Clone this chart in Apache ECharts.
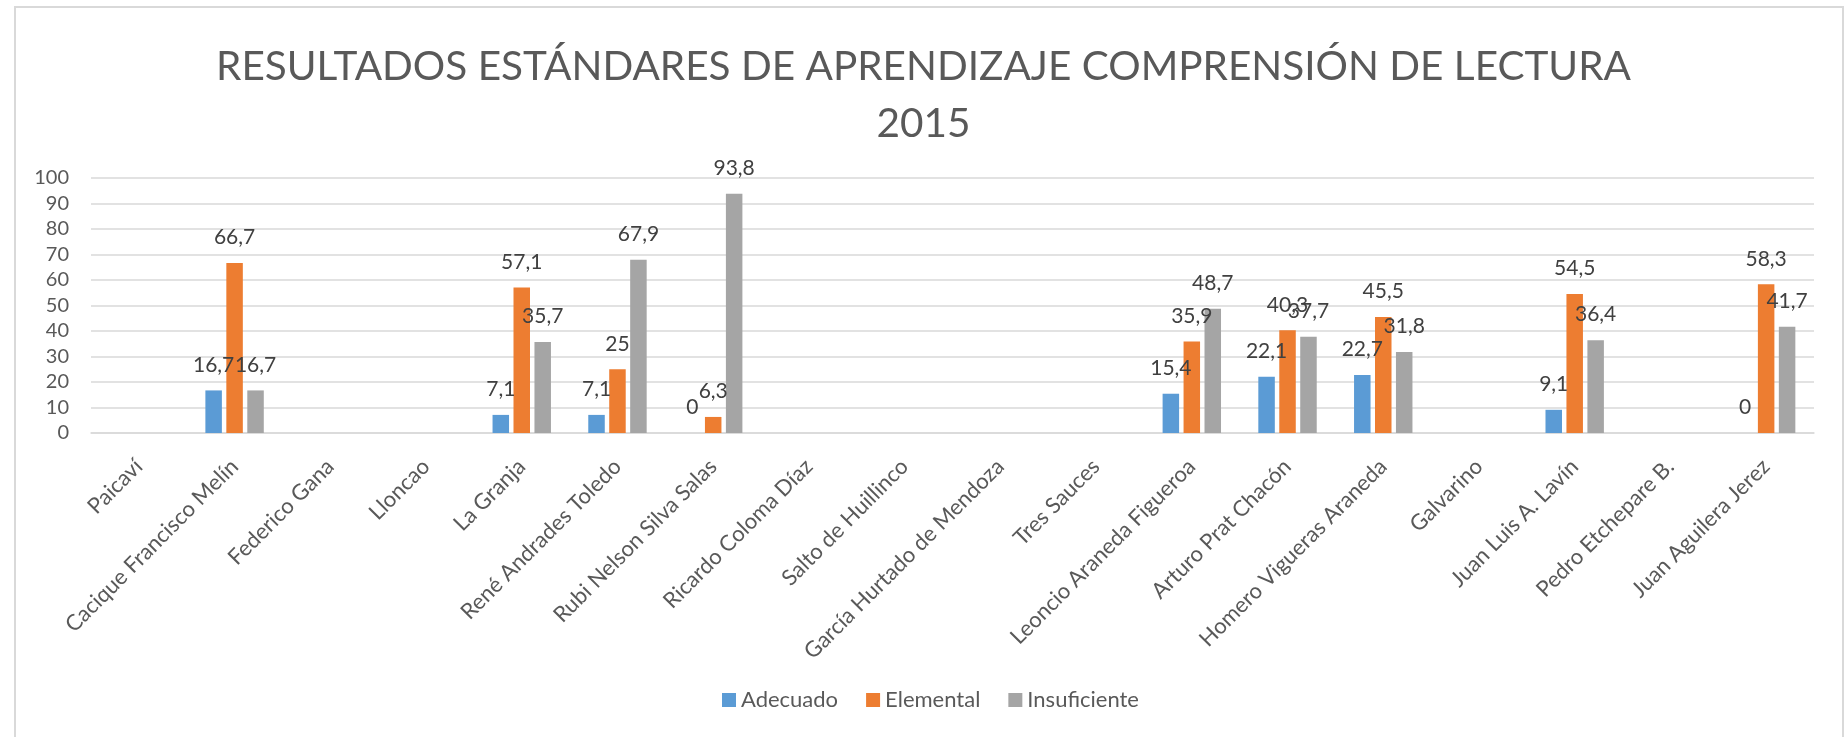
<!DOCTYPE html>
<html>
<head>
<meta charset="utf-8">
<script src="https://cdn.jsdelivr.net/npm/echarts@6/dist/echarts.min.js"></script>
<style>
  html, body { margin: 0; padding: 0; background: #fff; }
  #chart { width: 1847px; height: 737px; }
</style>
</head>
<body>
<div id="chart"></div>
<script>
  // colegios
  var categories = ['Paicaví', 'Cacique Francisco Melín', 'Federico Gana', 'Lloncao', 'La Granja',
    'René Andrades Toledo', 'Rubi Nelson Silva Salas', 'Ricardo Coloma Díaz', 'Salto de Huillinco',
    'García Hurtado de Mendoza', 'Tres Sauces', 'Leoncio Araneda Figueroa', 'Arturo Prat Chacón',
    'Homero Vigueras Araneda', 'Galvarino', 'Juan Luis A. Lavín', 'Pedro Etchepare B.', 'Juan Aguilera Jerez'];
  var adecuado = [null, 16.7, null, null, 7.1, 7.1, 0, null, null, null, null, 15.4, 22.1, 22.7, null, 9.1, null, 0];
  var elemental = [null, 66.7, null, null, 57.1, 25, 6.3, null, null, null, null, 35.9, 40.3, 45.5, null, 54.5, null, 58.3];
  var insuficiente = [null, 16.7, null, null, 35.7, 67.9, 93.8, null, null, null, null, 48.7, 37.7, 31.8, null, 36.4, null, 41.7];
  var yTicks = [0, 10, 20, 30, 40, 50, 60, 70, 80, 90, 100];

  var font = 'Lato, "Open Sans", sans-serif';

  function serie(name, data) {
    return {
      name: name,
      type: 'bar',
      barWidth: 16.5,
      barGap: '27%',
      data: data,
      label: {
        show: true,
        position: 'top',
        distance: 15,
        color: '#404040',
        fontSize: 21,
        fontFamily: font,
        formatter: function (p) {
          return String(p.value).replace('.', ',');
        }
      }
    };
  }

  var myChart = echarts.init(document.getElementById('chart'));
  myChart.setOption({
    animation: false,
    color: ['#5B9BD5', '#ED7D31', '#A5A5A5'],
    textStyle: { fontFamily: font },
    title: {
      text: 'RESULTADOS ESTÁNDARES DE APRENDIZAJE COMPRENSIÓN DE LECTURA\n2015',
      left: 'center',
      top: 33,
      textStyle: {
        color: '#595959',
        fontSize: 40.5,
        fontWeight: 'normal',
        fontFamily: font,
        lineHeight: 57
      }
    },
    graphic: [{
      type: 'rect',
      shape: { x: 15, y: 7, width: 1828, height: 740 },
      style: { fill: 'none', stroke: '#d9d9d9', lineWidth: 2 },
      silent: true
    }],
    legend: {
      bottom: 26,
      left: 722,
      padding: 0,
      itemWidth: 14,
      itemHeight: 14,
      itemGap: 28,
      icon: 'rect',
      textStyle: { color: '#595959', fontSize: 22, fontFamily: font },
      data: ['Adecuado', 'Elemental', 'Insuficiente']
    },
    grid: {
      left: 91,
      right: 33,
      top: 178,
      bottom: 304
    },
    xAxis: {
      type: 'category',
      data: categories,
      axisLine: { show: true, lineStyle: { color: '#d9d9d9', width: 1.5 } },
      axisTick: { show: false },
      axisLabel: {
        interval: 0,
        rotate: 45,
        margin: 30,
        color: '#595959',
        fontSize: 22,
        fontFamily: font
      }
    },
    yAxis: {
      type: 'value',
      min: yTicks[0],
      max: yTicks[yTicks.length - 1],
      interval: yTicks[1] - yTicks[0],
      axisLine: { show: false },
      axisTick: { show: false },
      splitLine: { lineStyle: { color: '#d9d9d9', width: 1.5 } },
      axisLabel: {
        margin: 22,
        color: '#595959',
        fontSize: 20,
        fontFamily: font
      }
    },
    series: [
      serie('Adecuado', adecuado),
      serie('Elemental', elemental),
      serie('Insuficiente', insuficiente)
    ]
  });
</script>
</body>
</html>
